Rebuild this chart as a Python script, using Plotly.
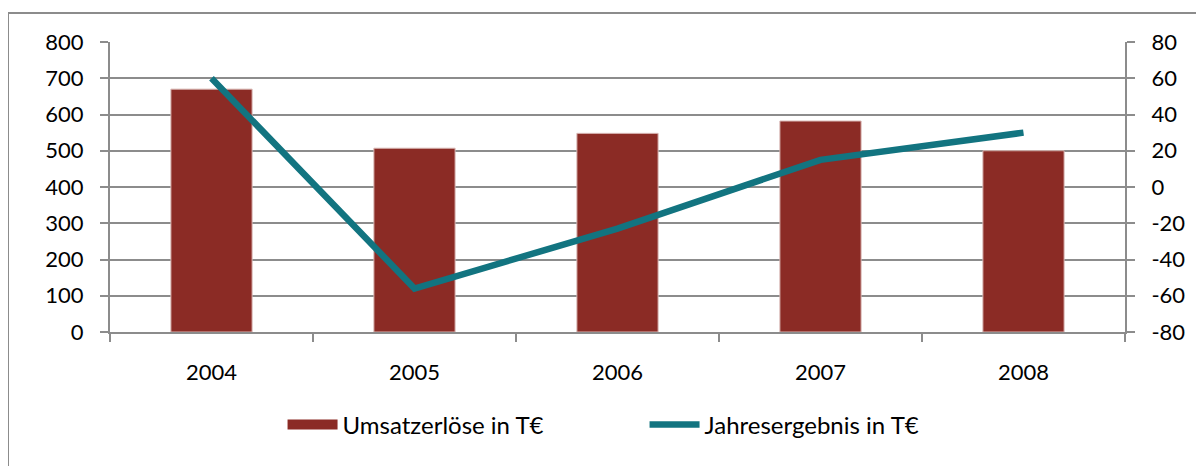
import plotly.graph_objects as go

years = ["2004", "2005", "2006", "2007", "2008"]
umsatz = [670, 507, 548, 582, 500]
ergebnis = [60, -56, -23, 15, 30]
left_ticks = [0, 100, 200, 300, 400, 500, 600, 700, 800]
right_ticks = [-80, -60, -40, -20, 0, 20, 40, 60, 80]
right_labels = ["-80", "-60", "-40", "-20", "0", "20", "40", "60", "80"]

BAR = "#8B2B25"
LINE = "#127480"
GRID = "#8C8C8C"
FONT = "Lato, 'Open Sans', sans-serif"

fig = go.Figure()
fig.add_trace(go.Bar(
    x=years, y=umsatz, name="Umsatzerlöse in T€",
    marker=dict(color=BAR, line=dict(color="#D9B8B5", width=1)),
    width=0.4, yaxis="y", showlegend=False, legendgroup="u",
))
# legend swatch for the bar series (wide rectangle, as in the original)
fig.add_trace(go.Scatter(
    x=[None], y=[None], name="Umsatzerlöse in T€", mode="lines",
    line=dict(color=BAR, width=15), legendgroup="u", yaxis="y",
))
fig.add_trace(go.Scatter(
    x=years, y=ergebnis, name="Jahresergebnis in T€",
    mode="lines", line=dict(color=LINE, width=6.5), yaxis="y2",
))

fig.update_layout(
    width=1196, height=458,
    margin=dict(l=102, r=79, t=34, b=134, autoexpand=False),
    paper_bgcolor="white", plot_bgcolor="white",
    font=dict(family=FONT, size=22, color="#000000"),
    showlegend=True,
    legend=dict(orientation="h", x=0.17, xanchor="left", y=-0.32, yanchor="middle",
                font=dict(size=24), itemwidth=50, entrywidth=297,
                entrywidthmode="pixels", bgcolor="rgba(0,0,0,0)"),
    xaxis=dict(
        type="category", tickson="boundaries", ticks="outside", ticklen=8,
        tickcolor=GRID, tickwidth=2, showline=True, linecolor=GRID, linewidth=2,
        showgrid=False, ticklabelstandoff=20, automargin=False,
    ),
    yaxis=dict(
        range=[0, 800], tickvals=left_ticks, ticks="outside", ticklen=8,
        tickcolor=GRID, tickwidth=2, showline=True, linecolor=GRID, linewidth=2,
        showgrid=True, gridcolor=GRID, gridwidth=2, zeroline=False,
        ticklabelstandoff=12, automargin=False,
    ),
    yaxis2=dict(
        range=[-80, 80], tickvals=right_ticks, ticktext=right_labels,
        overlaying="y", side="right",
        ticks="outside", ticklen=8, tickcolor=GRID, tickwidth=2,
        showline=True, linecolor=GRID, linewidth=2, showgrid=False,
        zeroline=False, ticklabelstandoff=12, automargin=False,
    ),
    shapes=[dict(
        type="rect", xref="paper", yref="paper",
        x0=-0.1005, x1=1.09, y0=-0.5, y1=1.1,
        line=dict(color=GRID, width=2), layer="below",
    )],
)

fig.write_html("out.html")
